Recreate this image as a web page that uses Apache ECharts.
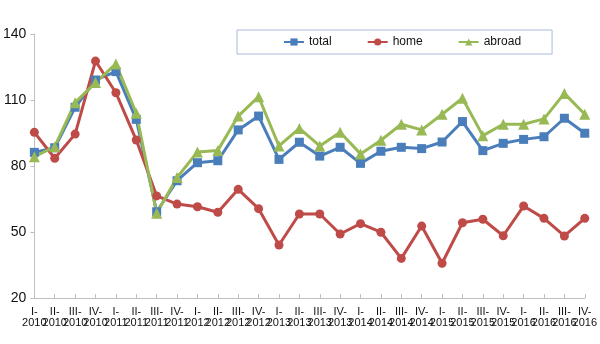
<!DOCTYPE html>
<html><head><meta charset="utf-8">
<script src="https://cdn.jsdelivr.net/npm/echarts@6/dist/echarts.min.js"></script>
<style>html,body{margin:0;padding:0;background:#fff}#c{width:600px;height:344px}</style>
</head><body><div id="c"></div>
<script>
const categories = ['I-\n2010','II-\n2010','III-\n2010','IV-\n2010','I-\n2011','II-\n2011','III-\n2011','IV-\n2011',
'I-\n2012','II-\n2012','III-\n2012','IV-\n2012','I-\n2013','II-\n2013','III-\n2013','IV-\n2013',
'I-\n2014','II-\n2014','III-\n2014','IV-\n2014','I-\n2015','II-\n2015','III-\n2015','IV-\n2015',
'I-\n2016','II-\n2016','III-\n2016','IV-\n2016'];
const total = [86.2,88.3,106.7,119.1,122.9,101.2,59.2,73.3,81.5,82.4,96.4,102.7,83.0,90.8,84.5,88.5,81.2,86.7,88.5,87.9,90.9,100.2,87.0,90.3,92.1,93.3,101.7,94.9];
const home = [95.3,83.5,94.5,127.7,113.3,91.8,66.4,62.7,61.5,59.0,69.4,60.6,44.1,58.2,58.2,49.1,53.8,49.9,38.0,52.7,35.8,54.2,55.8,48.3,61.8,56.2,48.2,56.2];
const abroad = [84.2,88.8,108.8,117.9,126.4,104.0,58.5,74.8,86.4,87.1,102.7,111.5,89.1,97.1,89.1,95.3,85.5,91.7,99.0,96.4,103.5,110.8,93.8,99.0,99.0,101.4,113.0,103.5];
const yTicks = {min:20, max:140, interval:30};

const chart = echarts.init(document.getElementById('c'), null, {renderer:'canvas'});
const font = 'Liberation Sans, Arial, sans-serif';
function s(name, data, color, symbol, size){
  return {name, type:'line', data, symbol, symbolSize:size, showSymbol:true,
    lineStyle:{color, width:3}, itemStyle:{color}, animation:false};
}
chart.setOption({
  animation:false,
  textStyle:{fontFamily:font},
  grid:{left:34, right:13, top:34, bottom:46, containLabel:false},
  legend:{
    left:237, top:30, padding:[6,31,6,46], itemGap:35, itemWidth:20, itemHeight:9,
    borderColor:'#a9bcd6', borderWidth:1, backgroundColor:'#fff',
    textStyle:{fontFamily:font, fontSize:12, color:'#111'},
    data:['total','home','abroad']
  },
  xAxis:{type:'category', data:categories, boundaryGap:false,
    axisLine:{lineStyle:{color:'#bfbfbf', width:1}},
    axisTick:{show:true, inside:true, length:4, alignWithLabel:true, lineStyle:{color:'#bfbfbf'}},
    axisLabel:{interval:0, fontSize:11, color:'#111', lineHeight:11, margin:8, fontFamily:font},
    splitLine:{show:false}},
  yAxis:{type:'value', min:yTicks.min, max:yTicks.max, interval:yTicks.interval,
    axisLine:{show:true, lineStyle:{color:'#bfbfbf'}},
    axisTick:{show:true, length:4, lineStyle:{color:'#bfbfbf'}},
    axisLabel:{fontSize:14, color:'#111', margin:8, fontFamily:font},
    splitLine:{show:false}},
  series:[
    s('total', total, '#4a7ebb', 'rect', 9),
    s('home', home, '#be4b48', 'circle', 9),
    s('abroad', abroad, '#98b954', 'triangle', 11)
  ]
});
</script></body></html>
